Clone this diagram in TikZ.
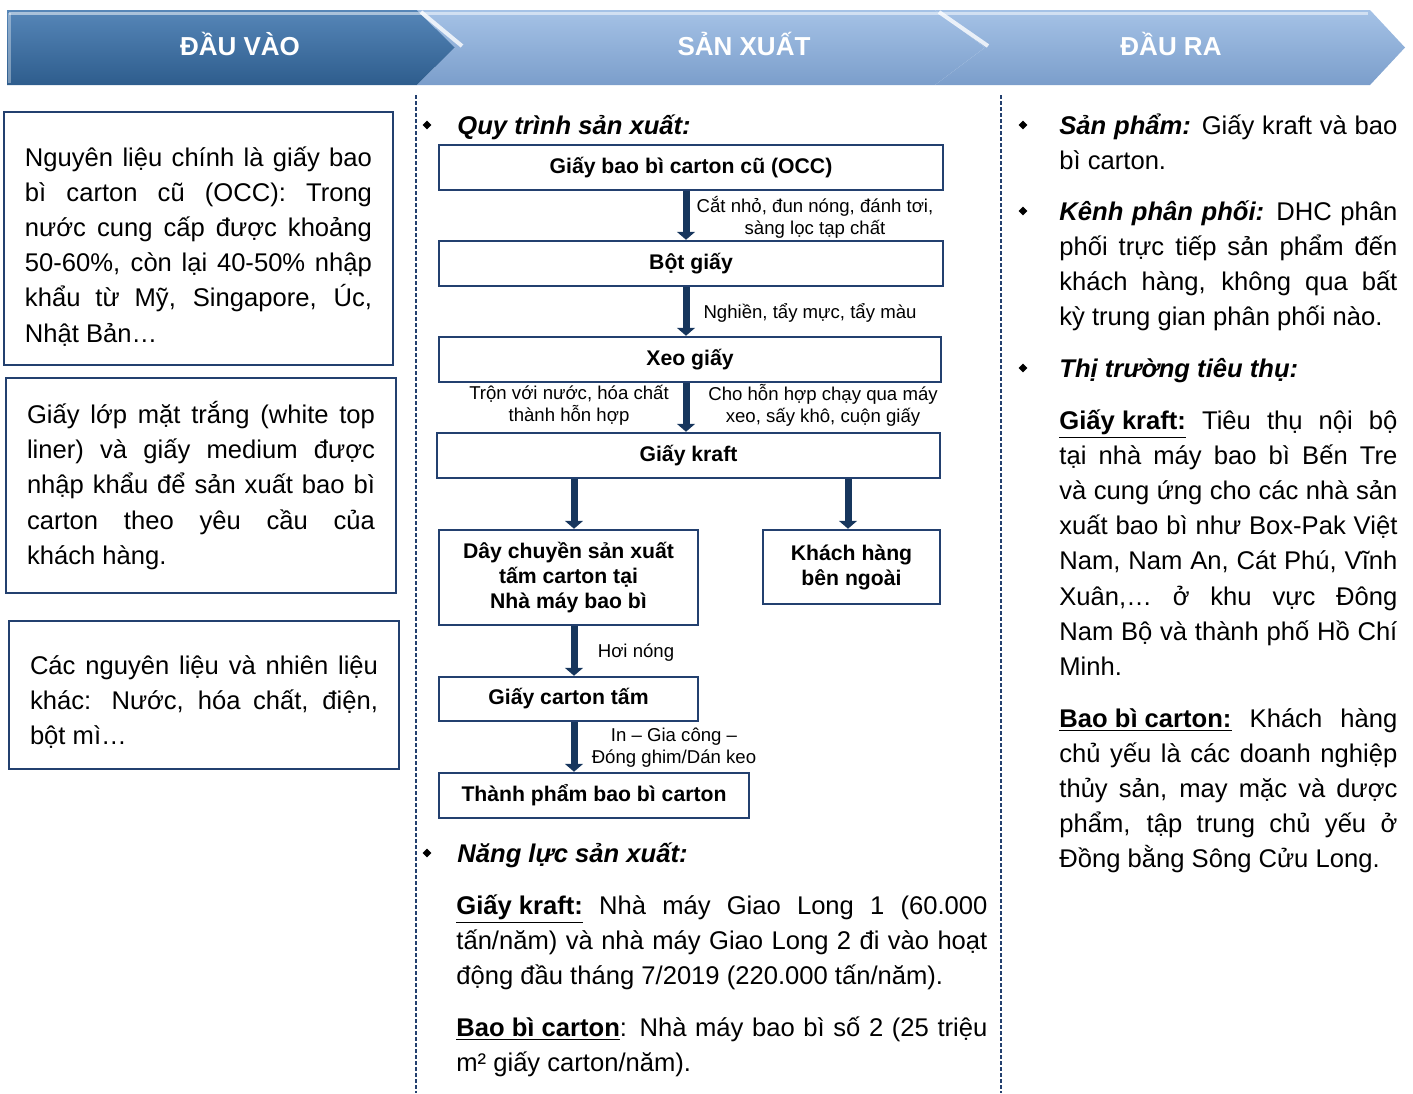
\documentclass[tikz,border=0pt]{standalone}
\usepackage{fontspec}
\setmainfont{Liberation Sans}
\usetikzlibrary{arrows.meta,shapes.geometric}

\newlength{\pxu}
\setlength{\pxu}{0.5pt}
\newcommand{\colfont}{\fontsize{12.8}{17.6}\selectfont}
\newcommand{\boxfont}{\fontsize{10.6}{12.5}\selectfont\bfseries}
\newcommand{\notefont}{\fontsize{9.3}{11}\selectfont}
\newcommand{\headfont}{\fontsize{13}{15}\selectfont\bfseries}

\definecolor{boxblue}{HTML}{23406F}
\definecolor{arrowblue}{HTML}{17365D}
\definecolor{darkband}{HTML}{2E5D8D}
\definecolor{darkbandtop}{HTML}{5686B8}
\definecolor{lightband}{HTML}{7B9ECB}
\definecolor{lightbandtop}{HTML}{A5C2E6}

\tikzset{
  flowbox/.style={draw=boxblue, line width=1.25pt, fill=white, inner sep=0pt, align=center, font=\boxfont},
  inbox/.style={draw=boxblue, line width=1.25pt, inner xsep=21\pxu, inner ysep=0pt, align=justify, font=\colfont},
  note/.style={align=center, font=\notefont, inner sep=0pt},
  para/.style={anchor=base west, align=justify, font=\colfont, inner sep=0pt},
  head/.style={anchor=base west, font=\colfont\bfseries\itshape, inner sep=0pt},
  bulletmark/.style={diamond, fill=black, inner sep=0pt, minimum size=9\pxu},
  flowarrow/.style={->, draw=arrowblue, line width=3.5pt},
  sepline/.style={draw=boxblue, line width=1pt, dash pattern=on 2pt off 1pt},
  headtext/.style={text=white, font=\headfont}
}

\begin{document}
\begin{tikzpicture}[x=0.5pt, y=-0.5pt, >={Triangle[length=4pt,width=9pt]}]
\useasboundingbox (0,0) rectangle (1413,1093);

% header band
\shade[top color=darkbandtop, bottom color=darkband] (7,10) -- (417,10) -- (455,47.5) -- (417,85) -- (7,85) -- cycle;
\shade[top color=lightbandtop, bottom color=lightband] (417,10) -- (935,10) -- (985,47.5) -- (935,85) -- (417,85) -- (455,47.5) -- cycle;
\shade[top color=lightbandtop, bottom color=lightband] (935,10) -- (1370,10) -- (1405,47.5) -- (1370,85) -- (935,85) -- (985,47.5) -- cycle;
\draw[white, opacity=0.5, line width=1.5pt] (9,13) -- (1368,13);
\draw[white, opacity=0.35, line width=1.5pt] (9,13) -- (9,83);
\draw[white, opacity=0.8, line width=2pt] (421,12) -- (462,46);
\draw[white, opacity=0.8, line width=2pt] (939,12) -- (988,46);
\node (hin) at (240,44) [headtext]{ĐẦU VÀO};
\node (hprod) at (744,44) [headtext]{SẢN XUẤT};
\node (hout) at (1171,44) [headtext]{ĐẦU RA};

% column separators
\draw[sepline] (416,95) -- (416,1093);
\draw[sepline] (1001,95) -- (1001,1093);

% input column
\node (in1) at (198.5,238.5) [inbox, text width=347\pxu, minimum height=253\pxu]{\rule{0pt}{17.5pt}Nguyên liệu chính là giấy bao\linebreak bì carton cũ (OCC): Trong\linebreak nước cung cấp được khoảng\linebreak 50-60\%, còn lại 40-50\% nhập\linebreak khẩu từ Mỹ, Singapore, Úc,\linebreak Nhật Bản…};
\node (in2) at (201,485.5) [inbox, text width=348\pxu, minimum height=215\pxu]{Giấy lớp mặt trắng (white top\linebreak liner) và giấy medium được\linebreak nhập khẩu để sản xuất bao bì\linebreak carton theo yêu cầu của\linebreak khách hàng.};
\node (in3) at (204,695) [inbox, text width=348\pxu, minimum height=148\pxu]{\rule{0pt}{16.6pt}Các nguyên liệu và nhiên liệu\linebreak khác: Nước, hóa chất, điện,\linebreak bột mì…};

% production column
\node (b1) at (427,125) [bulletmark]{};
\node (qt) at (457,134) [head]{Quy trình sản xuất:};

\node (occ) at (691,167.5) [flowbox, minimum width=504\pxu, minimum height=45\pxu]{Giấy bao bì carton cũ (OCC)};
\node (pulp) at (691,263.5) [flowbox, minimum width=504\pxu, minimum height=45\pxu]{Bột giấy};
\node (xeo) at (690,359.5) [flowbox, minimum width=502\pxu, minimum height=45\pxu]{Xeo giấy};
\node (kraft) at (688.5,455.5) [flowbox, minimum width=503\pxu, minimum height=45\pxu]{Giấy kraft};
\node (plant) at (568.5,577.5) [flowbox, minimum width=259\pxu, minimum height=95\pxu]{Dây chuyền sản xuất\\tấm carton tại\\Nhà máy bao bì};
\node (outside) at (851.5,567) [flowbox, minimum width=177\pxu, minimum height=74\pxu]{Khách hàng\\bên ngoài};
\node (sheet) at (568.5,699) [flowbox, minimum width=259\pxu, minimum height=44\pxu]{Giấy carton tấm};
\node (carton) at (594,795.5) [flowbox, minimum width=310\pxu, minimum height=45\pxu]{Thành phẩm bao bì carton};

\coordinate (mainaxis) at (686,0);
\coordinate (leftaxis) at (574,0);
\coordinate (rightaxis) at (848,0);
\draw[flowarrow] (occ.south -| mainaxis) -- (pulp.north -| mainaxis);
\draw[flowarrow] (pulp.south -| mainaxis) -- (xeo.north -| mainaxis);
\draw[flowarrow] (xeo.south -| mainaxis) -- (kraft.north -| mainaxis);
\draw[flowarrow] (kraft.south -| leftaxis) -- (plant.north -| leftaxis);
\draw[flowarrow] (kraft.south -| rightaxis) -- (outside.north -| rightaxis);
\draw[flowarrow] (plant.south -| leftaxis) -- (sheet.north -| leftaxis);
\draw[flowarrow] (sheet.south -| leftaxis) -- (carton.north -| leftaxis);

\node (n1) at (815,217) [note]{Cắt nhỏ, đun nóng, đánh tơi,\\sàng lọc tạp chất};
\node (n2) at (810,313) [note]{Nghiền, tẩy mực, tẩy màu};
\node (n3) at (569,405.5) [note]{Trộn với nước, hóa chất\\thành hỗn hợp};
\node (n4) at (823,405.5) [note]{Cho hỗn hợp chạy qua máy\\xeo, sấy khô, cuộn giấy};
\node (n5) at (636,653) [note]{Hơi nóng};
\node (n6) at (674,748) [note]{In – Gia công –\\Đóng ghim/Dán keo};

\node (b2) at (427,853) [bulletmark]{};
\node (nl) at (457,862) [head]{Năng lực sản xuất:};
\node (cap1) at (456,914) [para, text width=531\pxu]{\underline{\textbf{Giấy kraft:}} Nhà máy Giao Long 1 (60.000\linebreak tấn/năm) và nhà máy Giao Long 2 đi vào hoạt\linebreak động đầu tháng 7/2019 (220.000 tấn/năm).};
\node (cap2) at (456,1036) [para, text width=531\pxu]{\underline{\textbf{Bao bì carton}}: Nhà máy bao bì số 2 (25 triệu\linebreak m² giấy carton/năm).};

% output column
\node (b3) at (1023,125) [bulletmark]{};
\node (out1) at (1059,134) [para, text width=338\pxu]{\textbf{\textit{Sản phẩm:}} Giấy kraft và bao\linebreak bì carton.};
\node (b4) at (1023,211) [bulletmark]{};
\node (out2) at (1059,220) [para, text width=338\pxu]{\textbf{\textit{Kênh phân phối:}} DHC phân\linebreak phối trực tiếp sản phẩm đến\linebreak khách hàng, không qua bất\linebreak kỳ trung gian phân phối nào.};
\node (b5) at (1023,368) [bulletmark]{};
\node (out3) at (1059,377) [head]{Thị trường tiêu thụ:};
\node (out4) at (1059,429) [para, text width=338\pxu]{\underline{\textbf{Giấy kraft:}} Tiêu thụ nội bộ\linebreak tại nhà máy bao bì Bến Tre\linebreak và cung ứng cho các nhà sản\linebreak xuất bao bì như Box-Pak Việt\linebreak Nam, Nam An, Cát Phú, Vĩnh\linebreak Xuân,… ở khu vực Đông\linebreak Nam Bộ và thành phố Hồ Chí\linebreak Minh.};
\node (out5) at (1059,727) [para, text width=338\pxu]{\underline{\textbf{Bao bì carton:}} Khách hàng\linebreak chủ yếu là các doanh nghiệp\linebreak thủy sản, may mặc và dược\linebreak phẩm, tập trung chủ yếu ở\linebreak Đồng bằng Sông Cửu Long.};

\end{tikzpicture}
\end{document}
